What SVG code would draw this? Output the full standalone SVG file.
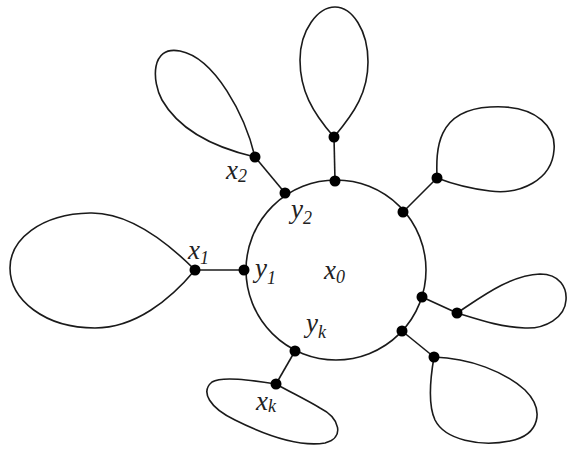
<svg xmlns="http://www.w3.org/2000/svg" width="568" height="450" viewBox="0 0 568 450">
<style>
.ln{fill:none;stroke:#1a1a1a;stroke-width:1.6}
.dot{fill:#000}
.lbl{font-family:'Liberation Serif',serif;font-style:italic;font-size:27px;fill:#222}
.sub{font-size:18px}
</style>
<rect width="568" height="450" fill="#fff"/>
<g id="center">
<circle class="ln" cx="336" cy="270" r="90"/>
<text class="lbl" x="324" y="279">x<tspan class="sub" dy="4">0</tspan></text>
</g>
<g id="connectors">
<line class="ln" x1="285" y1="193" x2="255" y2="157"/>
<line class="ln" x1="335" y1="181" x2="334" y2="137"/>
<line class="ln" x1="403" y1="212" x2="437" y2="178"/>
<line class="ln" x1="244" y1="270" x2="195" y2="270"/>
<line class="ln" x1="422" y1="297" x2="457" y2="313"/>
<line class="ln" x1="402" y1="331" x2="434" y2="357"/>
<line class="ln" x1="295" y1="351" x2="276" y2="384"/>
</g>
<g id="loop-x2">
<path class="ln" d="M255,157 C245,115 215,58 180,51 C150,45 152,82 162,100 C182,135 225,150 255,157 Z"/>
<circle class="dot" cx="255" cy="157" r="5.5"/>
<text class="lbl" x="226" y="179">x<tspan class="sub" dy="3">2</tspan></text>
</g>
<g id="y2">
<circle class="dot" cx="285" cy="193" r="5.5"/>
<text class="lbl" x="291" y="218">y<tspan class="sub" dy="6">2</tspan></text>
</g>
<g id="loop-top">
<path class="ln" d="M334,137 C312,112 300,90 300,60 C300,30 318,7 335,7 C352,7 368,30 368,62 C368,92 355,112 334,137 Z"/>
<circle class="dot" cx="334" cy="137" r="5.5"/>
<circle class="dot" cx="335" cy="181" r="5.5"/>
</g>
<g id="loop-topright">
<path class="ln" d="M437,178 C436,150 436,110 490,107 C540,104 556,130 554,150 C552,180 520,195 490,191 C465,188 450,183 437,178 Z"/>
<circle class="dot" cx="437" cy="178" r="5.5"/>
<circle class="dot" cx="403" cy="212" r="5.5"/>
</g>
<g id="loop-x1">
<path class="ln" d="M195,270 C170,245 130,212 90,213 C40,214 10,240 10,268 C10,300 45,328 95,328 C135,328 170,300 195,270 Z"/>
<circle class="dot" cx="195" cy="270" r="5.5"/>
<text class="lbl" x="188" y="259">x<tspan class="sub" dy="5">1</tspan></text>
</g>
<g id="y1">
<circle class="dot" cx="244" cy="270" r="5.5"/>
<text class="lbl" x="255" y="277">y<tspan class="sub" dy="7">1</tspan></text>
</g>
<g id="loop-right">
<path class="ln" d="M457,313 C480,298 510,275 540,274 C560,274 567,288 566,300 C565,318 545,329 525,328 C500,327 480,320 457,313 Z"/>
<circle class="dot" cx="457" cy="313" r="5.5"/>
<circle class="dot" cx="422" cy="297" r="5.5"/>
</g>
<g id="loop-bottomright">
<path class="ln" d="M434,357 C470,358 505,372 525,390 C545,410 540,435 510,441 C480,447 445,440 435,420 C428,405 430,380 434,357 Z"/>
<circle class="dot" cx="434" cy="357" r="5.5"/>
<circle class="dot" cx="402" cy="331" r="5.5"/>
</g>
<g id="loop-xk">
<path class="ln" d="M276,384 C250,380 222,376 212,382 C200,392 210,408 235,420 C265,435 300,447 325,443 C345,438 340,418 320,408 C305,399 290,392 276,384 Z"/>
<circle class="dot" cx="276" cy="384" r="5.5"/>
<text class="lbl" x="256" y="410">x<tspan class="sub" dy="2">k</tspan></text>
</g>
<g id="yk">
<circle class="dot" cx="295" cy="351" r="5.5"/>
<text class="lbl" x="306" y="332">y<tspan class="sub" dy="6">k</tspan></text>
</g>
</svg>
